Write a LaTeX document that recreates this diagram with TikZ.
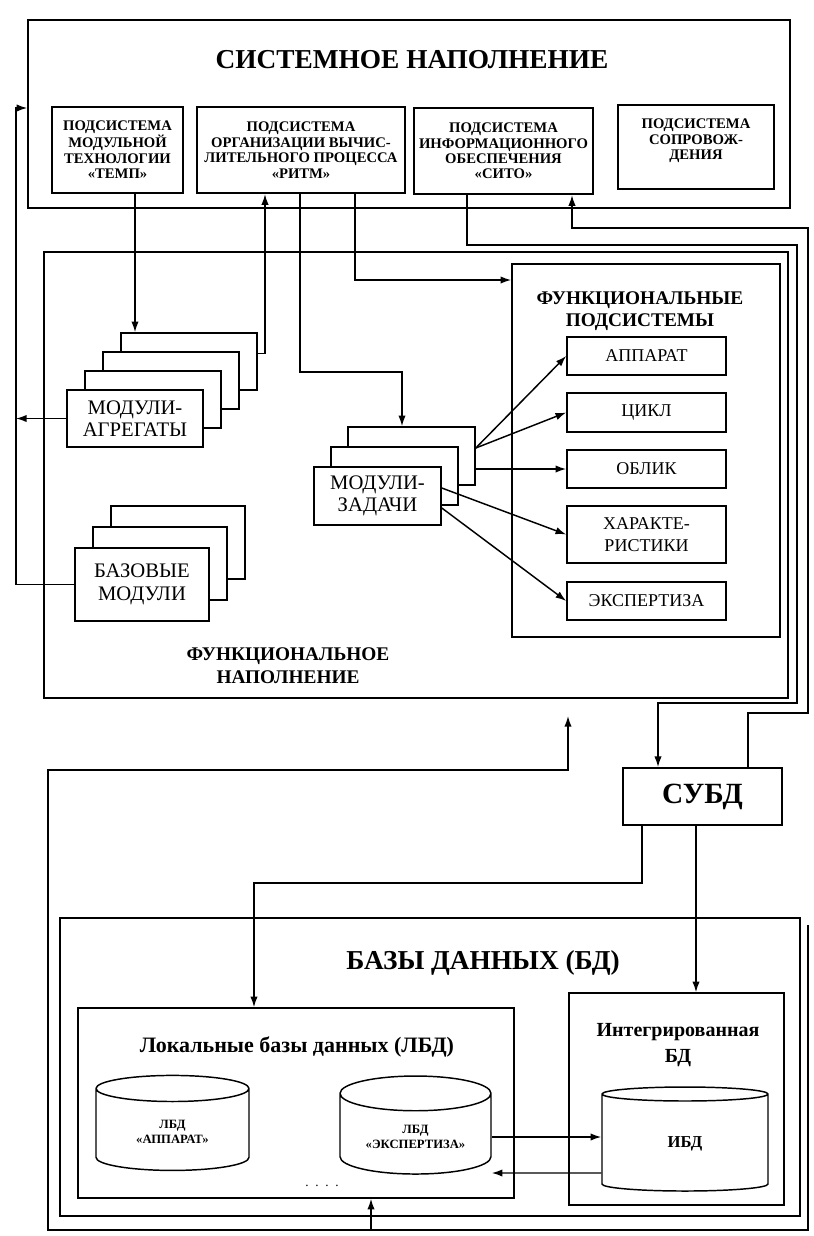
\documentclass[tikz,border=0pt]{standalone}
\usepackage{fontspec}
\setmainfont{Liberation Serif}
\usetikzlibrary{arrows.meta, positioning, calc, shapes.geometric}

\begin{document}
\begin{tikzpicture}[x=0.75pt, y=-0.75pt,
  wh/.style 2 args={minimum width=#1*0.75pt, minimum height=#2*0.75pt},
  frame/.style={draw, line width=1.1pt, inner sep=0pt},
  sub/.style={draw, line width=1.7pt, align=center, inner sep=1pt, font=\fontsize{11}{11.6}\selectfont\bfseries},
  card/.style={draw, line width=1.2pt, fill=white, align=center, inner sep=1pt, font=\fontsize{15.5}{17}\selectfont},
  fbox/.style={draw, line width=1.2pt, align=center, inner sep=1pt, font=\fontsize{13.5}{17}\selectfont},
  db/.style={cylinder, shape border rotate=90, shape aspect=0.32, draw, line width=1.1pt, align=center, font=\fontsize{9.5}{11}\selectfont\bfseries},
  head/.style={align=center, font=\fontsize{14.5}{17}\selectfont\bfseries},
  arr/.style={line width=1.1pt, -{Latex[length=8pt, width=5.5pt]}}]

\useasboundingbox (0,0) rectangle (814,1236);

% system
\node[frame, wh={762}{188}] (sys) at (409,114) {};
\node[font=\fontsize{20.5}{24}\selectfont\bfseries] (sysT) at (412,60) {СИСТЕМНОЕ НАПОЛНЕНИЕ};
\node[sub, wh={131}{86}] (temp) at (117.5,150) {ПОДСИСТЕМА\\МОДУЛЬНОЙ\\ТЕХНОЛОГИИ\\«ТЕМП»};
\node[sub, wh={208}{86}] (ritm) at (301,150) {ПОДСИСТЕМА\\ОРГАНИЗАЦИИ ВЫЧИС-\\ЛИТЕЛЬНОГО ПРОЦЕССА\\«РИТМ»};
\node[sub, wh={179}{86}] (sito) at (503.5,151) {ПОДСИСТЕМА\\ИНФОРМАЦИОННОГО\\ОБЕСПЕЧЕНИЯ\\«СИТО»};
\node[sub, wh={156}{84}] (sopr) at (696,147) {ПОДСИСТЕМА\\СОПРОВОЖ-\\ДЕНИЯ\\\mbox{}};

% functional
\node[frame, line width=1.2pt, wh={744}{446}] (fun) at (416,475) {};
\node[head] (funT) at (288,666) {ФУНКЦИОНАЛЬНОЕ\\НАПОЛНЕНИЕ};
\node[frame, line width=1.2pt, wh={268}{373}] (fps) at (646,450.5) {};
\node[head] (fpsT) at (640,311) {ФУНКЦИОНАЛЬНЫЕ\\ПОДСИСТЕМЫ};
\node[fbox, wh={159}{38}] (app) at (646.5,356) {АППАРАТ};
\node[fbox, wh={159}{39}] (cikl) at (646.5,412.5) {ЦИКЛ};
\node[fbox, wh={159}{38}] (oblik) at (646.5,469) {ОБЛИК};
\node[fbox, wh={159}{57}] (har) at (646.5,534.5) {ХАРАКТЕ-\\РИСТИКИ};
\node[fbox, wh={159}{38}] (eksp) at (646.5,601) {ЭКСПЕРТИЗА};

\foreach \k in {3,2,1}
  \node[card, wh={136}{57}] (agr\k) at ({135+18*\k},{418.5-19*\k}) {};
\node[card, wh={136}{57}] (agr) at (135,418.5) {МОДУЛИ-\\АГРЕГАТЫ};
\foreach \k in {2,1}
  \node[card, wh={127}{58}] (zad\k) at ({377.5+17*\k},{496-20*\k}) {};
\node[card, wh={127}{58}] (zad) at (377.5,496) {МОДУЛИ-\\ЗАДАЧИ};
\foreach \k in {2,1}
  \node[card, wh={134}{73}] (baz\k) at ({142+18*\k},{584.5-21*\k}) {};
\node[card, wh={134}{73}] (baz) at (142,584.5) {БАЗОВЫЕ\\МОДУЛИ};

% dbms and databases
\node[draw, line width=1.4pt, wh={159}{57}, font=\fontsize{22}{24}\selectfont\bfseries] (subd) at (702.5,796.5) {СУБД};
\node[frame, wh={740}{298}] (bd) at (430,1067) {};
\node[font=\fontsize{20.5}{24}\selectfont\bfseries] (bdT) at (483,963) {БАЗЫ ДАННЫХ (БД)};
\node[frame, wh={436}{190}] (lbd) at (296,1103) {};
\node[font=\fontsize{16.5}{19}\selectfont\bfseries] (lbdT) at (297,1047) {Локальные базы данных (ЛБД)};
\node[frame, wh={215}{212}] (ibdbox) at (676.5,1099) {};
\node[head, font=\fontsize{15}{19}\selectfont\bfseries] (ibdT) at (678,1045) {Интегрированная\\БД};
\node[db, wh={153}{95}] (ca) at (172.5,1132) {ЛБД\\«АППАРАТ»};
\node[db, wh={151}{98}] (ce) at (415.5,1137) {ЛБД\\«ЭКСПЕРТИЗА»};
\node[db, wh={166}{104}, font=\fontsize{12.5}{14}\selectfont\bfseries] (ci) at (685,1144) {ИБД};
\node (dots) at (322,1186) {.\ \ .\ \ .\ \ .};

% routing points
\coordinate (xl) at (16,0);
\coordinate (ytop) at (0,108);
\coordinate (xa) at (135,0);
\coordinate (xb) at (265,0);
\coordinate (xc) at (300,0);
\coordinate (yc) at (0,372);
\coordinate (xc2) at (402,0);
\coordinate (xd) at (355,0);
\coordinate (yd) at (0,280);
\coordinate (xs1) at (467,0);
\coordinate (ys1) at (0,245);
\coordinate (xs2) at (797,0);
\coordinate (ys2) at (0,703);
\coordinate (xs3) at (658,0);
\coordinate (xs4) at (748,0);
\coordinate (ys3) at (0,713);
\coordinate (xs5) at (808,0);
\coordinate (ys4) at (0,228);
\coordinate (xs6) at (572,0);
\coordinate (xs7) at (642,0);
\coordinate (ys5) at (0,883);
\coordinate (xs8) at (254,0);
\coordinate (xs9) at (696,0);
\coordinate (xm) at (568,0);
\coordinate (ym) at (0,770);
\coordinate (mtip) at (568,716);
\coordinate (xL) at (48,0);
\coordinate (yB) at (0,1230);
\coordinate (rfree) at (808,925);
\coordinate (xe) at (371,0);

% connectors
\draw[arr] (temp.south -| xa) -- (agr3.north -| xa);
\draw[arr] ([yshift=6pt]agr3.east) -| (ritm.south -| xb);
\draw[arr] (ritm.south -| xc) |- (yc -| xc2) -- (zad2.north -| xc2);
\draw[arr] (ritm.south -| xd) |- (fps.west |- yd);
\draw[arr] (agr.west) -- (agr.west -| xl);
\draw[arr] (baz.west) -| (xl |- ytop) -- (sys.west |- ytop);
\draw[arr] ([yshift=6pt]zad2.east) -- (app.west);
\draw[arr] ([yshift=6pt]zad2.east) -- (cikl.west);
\draw[arr] (zad2.east |- oblik.west) -- (oblik.west);
\draw[arr] ([yshift=6pt]zad.east) -- (har.west);
\draw[arr] ([yshift=-9pt]zad.east) -- (eksp.west);
\draw[arr] (sito.south -| xs1) |- (xs2 |- ys1) |- (ys2 -| xs3) -- (subd.north -| xs3);
\draw[arr] (subd.north -| xs4) |- (xs5 |- ys3) |- (ys4 -| xs6) -- (sito.south -| xs6);
\draw[arr] (subd.south -| xs7) |- (ys5 -| xs8) -- (lbd.north -| xs8);
\draw[arr] (subd.south -| xs9) -- (ibdbox.north -| xs9);
\draw[arr] (ce.east) -- (ce.east -| ci.west);
\draw[arr] ($(ci.west)+(0,29)$) -- ($(ce.east)+(0,36)$);
\draw[arr] (rfree) |- (yB -| xL) |- (ym -| xm) -- (mtip);
\draw[arr] (yB -| xe) -- (lbd.south -| xe);
\end{tikzpicture}
\end{document}
